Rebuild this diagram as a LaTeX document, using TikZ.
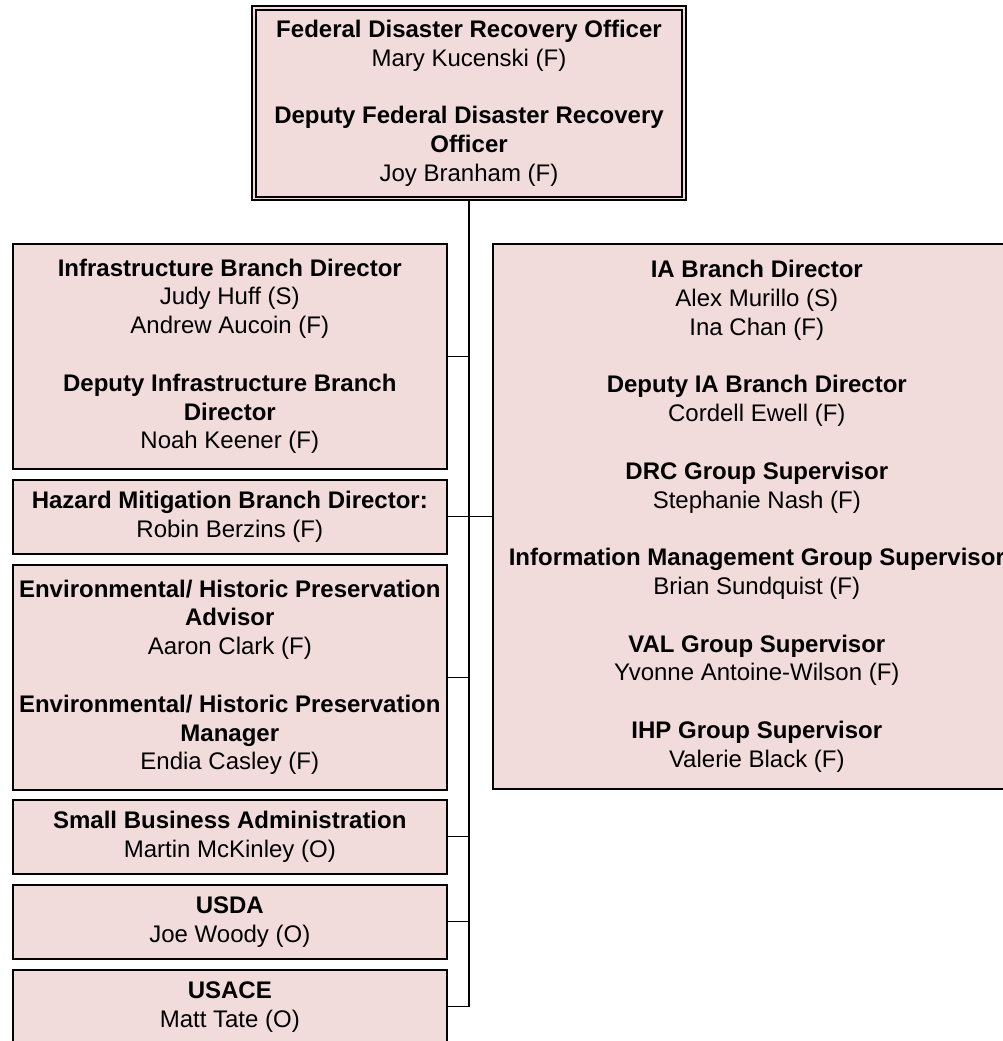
\documentclass[tikz,border=0pt]{standalone}
\usepackage{fontspec}
\setmainfont{Liberation Sans}
\definecolor{boxfill}{HTML}{F2DCDB}
\begin{document}
\begin{tikzpicture}[x=0.75pt,y=-0.75pt,
  orgbox/.style={draw=black, line width=1.2pt, fill=boxfill, inner sep=0pt,
    anchor=north west, align=center,
    font=\fontsize{18pt}{21.6pt}\selectfont},
  conn/.style={draw=black, line width=0.8pt},
  spine/.style={draw=black, line width=1.5pt}]
\useasboundingbox (0,0) rectangle (1002,1041);

\node[orgbox, line width=1.5pt, minimum width=434*0.75pt, minimum height=194*0.75pt] (top) at (251,5)
 {\textbf{Federal Disaster Recovery Officer}\\ Mary Kucenski (F)\\[21.6pt]
  \textbf{Deputy Federal Disaster Recovery}\\ \textbf{Officer}\\ Joy Branham (F)};
\draw[line width=0.8pt] ([shift={(5,5)}]top.north west) rectangle ([shift={(-5,-4)}]top.south east);

\node[orgbox, minimum width=434*0.75pt, minimum height=225*0.75pt] (infra) at (12,243)
 {\textbf{Infrastructure Branch Director}\\ Judy Huff (S)\\ Andrew Aucoin (F)\\[21.6pt]
  \textbf{Deputy Infrastructure Branch}\\ \textbf{Director}\\ Noah Keener (F)};

\node[orgbox, minimum width=434*0.75pt, minimum height=74*0.75pt] (haz) at (12,479)
 {\textbf{Hazard Mitigation Branch Director:}\\ Robin Berzins (F)};

\node[orgbox, minimum width=434*0.75pt, minimum height=225*0.75pt] (ehp) at (12,564)
 {\textbf{Environmental/ Historic Preservation}\\ \textbf{Advisor}\\ Aaron Clark (F)\\[21.6pt]
  \textbf{Environmental/ Historic Preservation}\\ \textbf{Manager}\\ Endia Casley (F)};

\node[orgbox, minimum width=434*0.75pt, minimum height=74*0.75pt] (sba) at (12,799)
 {\textbf{Small Business Administration}\\ Martin McKinley (O)};

\node[orgbox, minimum width=434*0.75pt, minimum height=74*0.75pt] (usda) at (12,884)
 {\textbf{USDA}\\ Joe Woody (O)};

\node[orgbox, minimum width=434*0.75pt, minimum height=74*0.75pt] (usace) at (12,969)
 {\textbf{USACE}\\ Matt Tate (O)};

\node[orgbox, minimum width=528*0.75pt, minimum height=545*0.75pt] (ia) at (492,243)
 {\textbf{IA Branch Director}\\ Alex Murillo (S)\\ Ina Chan (F)\\[21.6pt]
  \textbf{Deputy IA Branch Director}\\ Cordell Ewell (F)\\[21.6pt]
  \textbf{DRC Group Supervisor}\\ Stephanie Nash (F)\\[21.6pt]
  \textbf{Information Management Group Supervisor}\\ Brian Sundquist (F)\\[21.6pt]
  \textbf{VAL Group Supervisor}\\ Yvonne Antoine-Wilson (F)\\[21.6pt]
  \textbf{IHP Group Supervisor}\\ Valerie Black (F)};

\draw[spine] (top.south) -- (top.south |- usace.east);
\draw[conn] (infra.east) -- (infra.east -| top.south);
\draw[conn] (haz.east) -- (haz.east -| top.south);
\draw[conn] (ia.west) -- (ia.west -| top.south);
\draw[conn] (ehp.east) -- (ehp.east -| top.south);
\draw[conn] (sba.east) -- (sba.east -| top.south);
\draw[conn] (usda.east) -- (usda.east -| top.south);
\draw[conn] (usace.east) -- (usace.east -| top.south);
\end{tikzpicture}
\end{document}
